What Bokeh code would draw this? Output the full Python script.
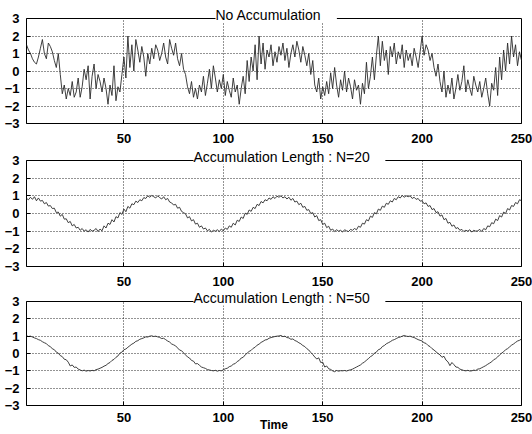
from bokeh.plotting import figure
from bokeh.layouts import column
from bokeh.models import Range1d, FixedTicker, Title, ColumnDataSource
from bokeh.embed import file_html
from bokeh.resources import INLINE

time = list(range(1, 251))

no_accum = [
    1.5, 1.2, 1.0, 0.7, 0.5, 0.4, 0.8, 1.3, 1.8, 1.0, 0.7, 1.6, 1.4, 1.1, 0.6, 0.2,
    1.0, -0.2, -1.3, -0.8, -1.6, -1.0, -1.4, -0.6, -1.5, -1.2, -0.4, -1.5, -0.9, 0.1, -0.5, 0.3,
    -1.6, -0.3, 0.4, -1.0, -0.2, -0.6, -1.2, -0.4, -1.0, -1.9, -0.8, -1.4, 0.3, -1.7, -0.9, -1.2,
    -0.2, 0.8, -0.4, 2.0, 0.2, 1.5, 0.0, 1.8, 1.2, 0.5, 1.4, 0.8, -0.3, 1.0, 0.4, 1.3,
    0.7, 1.5, 1.2, 0.6, 1.0, 1.6, 0.8, 0.4, 1.8, 1.3, 0.9, 1.6, 0.7, 0.3, 1.0, 0.1,
    -0.2, -0.9, -1.3, -0.6, -1.5, -1.0, -1.6, -0.8, -1.2, -0.3, -1.4, -0.7, 0.1, -1.0, 0.3, -0.4,
    -1.2, -0.5, -1.0, -0.2, -1.4, -0.6, -1.1, -1.5, -0.4, -1.2, -0.8, -1.9, -1.0, -0.3, -1.3, 0.6,
    -0.6, 0.8, 0.0, 1.5, -0.5, 2.0, 0.4, 1.6, 0.1, 1.2, 0.8, 1.5, 0.3, 1.1, 0.5, 1.4,
    0.9, 1.6, 0.6, 1.3, 0.2, 1.0, 1.5, 0.8, 1.7, 1.2, 0.5, 1.4, 0.9, 0.3, 1.0, -0.2,
    0.6, -0.8, -1.2, -0.4, -1.6, -0.9, -1.4, -0.6, -1.3, -0.1, -1.0, 0.2, -0.8, -1.5, -0.5, -1.1,
    0.0, -1.2, -0.4, -0.9, -1.6, -0.5, -1.1, -0.8, -1.9, -0.7, -1.3, 0.5, -1.0, -0.3, 0.8, -0.5,
    0.9, 2.0, 0.3, 1.7, 0.6, 1.2, -0.2, 1.4, 0.8, 1.6, 0.4, 1.1, 0.7, 1.5, 0.2, 1.2,
    0.6, 1.0, 0.3, 1.3, 0.8, 0.2, 1.1, 2.0, 0.9, 1.5, 1.2, 0.6, 1.0, 0.2, -0.3, 0.4,
    -0.6, -1.2, 0.0, -1.5, -0.8, -1.3, -0.4, -1.6, -1.0, -0.2, -1.1, -0.6, 0.3, -1.2, -0.5, -1.0,
    -1.4, -0.3, -0.8, -1.2, -0.6, -1.5, -1.0, -0.4, -1.3, -2.0, -0.7, -1.1, 0.2, -1.4, 0.8, -0.5,
    1.2, 0.0, 1.6, 0.4, 2.0, 0.8, 1.5, 0.3, 1.1, 0.6,
]

accum_20 = [
    0.85, 0.78, 0.92, 0.80, 0.95, 0.72, 0.88, 0.70, 0.74, 0.55, 0.62, 0.42, 0.45, 0.28, 0.30, 0.05,
    0.08, -0.15, -0.05, -0.32, -0.30, -0.52, -0.45, -0.70, -0.62, -0.82, -0.78, -0.95, -0.85, -1.00, -0.92, -1.05,
    -0.90, -1.00, -0.95, -0.85, -1.02, -0.88, -0.98, -0.70, -0.82, -0.55, -0.62, -0.35, -0.48, -0.18, -0.25, 0.05,
    -0.05, 0.25, 0.10, 0.40, 0.30, 0.55, 0.50, 0.70, 0.62, 0.78, 0.72, 0.90, 0.85, 1.00, 0.92, 1.02,
    0.95, 0.88, 1.00, 0.90, 0.82, 0.95, 0.78, 0.85, 0.65, 0.60, 0.48, 0.52, 0.30, 0.35, 0.12, 0.05,
    -0.02, -0.25, -0.18, -0.42, -0.35, -0.60, -0.55, -0.78, -0.70, -0.88, -0.82, -0.98, -0.90, -1.05, -0.95, -1.00,
    -0.92, -1.02, -0.88, -0.98, -0.82, -0.90, -0.70, -0.78, -0.55, -0.65, -0.38, -0.45, -0.20, -0.28, 0.02, -0.05,
    0.20, 0.12, 0.35, 0.28, 0.52, 0.45, 0.68, 0.60, 0.78, 0.72, 0.88, 0.80, 0.95, 0.85, 0.98, 0.92,
    1.00, 0.88, 0.95, 0.82, 0.92, 0.75, 0.85, 0.65, 0.70, 0.50, 0.58, 0.35, 0.40, 0.18, 0.22, 0.00,
    0.05, -0.20, -0.12, -0.40, -0.35, -0.62, -0.55, -0.80, -0.72, -0.95, -0.88, -1.02, -0.92, -1.00, -0.95, -1.05,
    -0.92, -0.98, -1.02, -0.90, -0.95, -0.85, -0.92, -0.72, -0.78, -0.55, -0.60, -0.35, -0.42, -0.15, -0.22, 0.05,
    -0.02, 0.25, 0.18, 0.42, 0.35, 0.58, 0.52, 0.72, 0.65, 0.85, 0.78, 0.95, 0.88, 1.02, 0.92, 1.00,
    0.95, 1.00, 0.85, 0.92, 0.80, 0.85, 0.70, 0.72, 0.55, 0.60, 0.40, 0.45, 0.22, 0.28, 0.05, 0.10,
    -0.15, -0.08, -0.35, -0.28, -0.55, -0.50, -0.72, -0.65, -0.85, -0.80, -0.95, -0.90, -1.02, -0.95, -1.00, -0.92,
    -1.05, -0.95, -1.00, -0.98, -0.90, -1.02, -0.85, -0.92, -0.70, -0.75, -0.52, -0.58, -0.32, -0.40, -0.12, -0.20,
    0.08, 0.00, 0.28, 0.20, 0.45, 0.40, 0.62, 0.55, 0.78, 0.72,
]

accum_50 = [
    1.02, 0.98, 1.00, 0.95, 0.90, 0.86, 0.80, 0.76, 0.68, 0.62, 0.57, 0.45, 0.40, 0.27, 0.22, 0.08,
    0.02, -0.12, -0.18, -0.33, -0.36, -0.50, -0.72, -0.66, -0.80, -0.78, -0.90, -0.95, -1.00, -0.96, -1.02, -0.98,
    -1.01, -0.97, -1.00, -0.93, -0.90, -0.85, -0.80, -0.73, -0.68, -0.58, -0.52, -0.40, -0.34, -0.22, -0.14, 0.02,
    0.08, 0.22, 0.26, 0.36, 0.45, 0.54, 0.60, 0.70, 0.74, 0.82, 0.86, 0.90, 0.96, 0.95, 1.00, 1.02,
    0.98, 1.00, 0.96, 0.93, 0.86, 0.88, 0.80, 0.72, 0.66, 0.55, 0.50, 0.44, 0.32, 0.20, 0.16, 0.04,
    -0.08, -0.20, -0.26, -0.40, -0.44, -0.60, -0.58, -0.68, -0.78, -0.82, -0.86, -0.93, -0.95, -0.98, -1.00, -0.97,
    -1.02, -0.98, -1.00, -0.94, -0.88, -0.85, -0.76, -0.72, -0.62, -0.58, -0.46, -0.40, -0.26, -0.22, -0.08, 0.02,
    0.12, 0.18, 0.30, 0.36, 0.48, 0.54, 0.64, 0.70, 0.78, 0.80, 0.88, 0.92, 0.95, 0.98, 1.00, 1.01,
    1.04, 0.97, 1.00, 0.92, 0.90, 0.82, 0.84, 0.75, 0.70, 0.62, 0.56, 0.46, 0.40, 0.28, 0.20, 0.06,
    -0.06, -0.20, -0.32, -0.25, -0.52, -0.50, -0.78, -0.72, -0.88, -0.92, -1.00, -1.05, -0.98, -1.02, -0.99, -1.00,
    -0.98, -1.01, -0.97, -0.94, -0.90, -0.84, -0.78, -0.72, -0.66, -0.56, -0.50, -0.38, -0.30, -0.18, -0.12, 0.02,
    0.08, 0.22, 0.26, 0.40, 0.46, 0.56, 0.62, 0.68, 0.76, 0.80, 0.86, 0.92, 0.95, 1.00, 1.04, 1.00,
    0.98, 1.00, 0.95, 0.92, 0.86, 0.80, 0.76, 0.72, 0.62, 0.58, 0.46, 0.40, 0.28, 0.20, 0.10, 0.00,
    -0.08, -0.22, -0.16, -0.38, -0.48, -0.70, -0.52, -0.64, -0.78, -0.80, -0.90, -0.94, -0.98, -1.00, -0.97, -1.01,
    -1.00, -0.96, -0.98, -0.90, -0.88, -0.82, -0.76, -0.70, -0.62, -0.55, -0.48, -0.36, -0.30, -0.20, -0.08, 0.02,
    0.10, 0.22, 0.28, 0.38, 0.48, 0.55, 0.64, 0.72, 0.76, 0.84,
]

titles = ["No Accumulation", "Accumulation Length : N=20", "Accumulation Length : N=50"]
title_offset = [189, 167, 167]
x_ticks = [50, 100, 150, 200, 250]
y_ticks = [-3, -2, -1, 0, 1, 2, 3]
series = [no_accum, accum_20, accum_50]

FONT = "Liberation Sans"


def make_panel(y, title, toff, height, top, bottom, xstand, xlabel=False):
    p = figure(width=532, height=height,
               x_range=Range1d(1, 250), y_range=Range1d(-3, 3),
               output_backend="svg", toolbar_location=None,
               min_border_left=26, min_border_right=11,
               min_border_top=top, min_border_bottom=bottom,
               background_fill_color="white", border_fill_color="white")
    p.outline_line_color = "black"
    p.outline_line_width = 1
    src = ColumnDataSource(dict(t=time, v=y))
    p.line("t", "v", source=src, line_color="#2a2a2a", line_width=0.9)

    for ax in (p.xaxis, p.yaxis):
        ax.axis_line_color = None
        ax.major_tick_in = 4
        ax.major_tick_out = 0
        ax.minor_tick_line_color = None
        ax.major_tick_line_color = "black"
        ax.major_label_text_font = FONT
        ax.major_label_text_font_size = "13px"
        ax.major_label_text_font_style = "bold"
        ax.major_label_text_color = "black"
    p.xaxis.ticker = FixedTicker(ticks=x_ticks)
    p.yaxis.ticker = FixedTicker(ticks=y_ticks)
    p.xaxis.major_label_standoff = xstand
    p.yaxis.major_label_standoff = 7

    for g in (p.xgrid, p.ygrid):
        g.grid_line_color = "black"
        g.grid_line_dash = "1 2"
        g.grid_line_alpha = 0.85
        g.grid_line_width = 1
    p.xgrid.ticker = FixedTicker(ticks=x_ticks)
    p.ygrid.ticker = FixedTicker(ticks=y_ticks)

    t = Title(text="  " + title + "  ", align="left", offset=toff,
              vertical_align="bottom", standoff=-8,
              text_font=FONT, text_font_size="14px", text_font_style="normal",
              text_color="black", background_fill_color="white")
    p.add_layout(t, "above")

    if xlabel:
        p.xaxis.axis_label = "Time"
        p.xaxis.axis_label_text_font = FONT
        p.xaxis.axis_label_text_font_size = "12px"
        p.xaxis.axis_label_text_font_style = "bold"
        p.xaxis.axis_label_text_color = "black"
        p.xaxis.axis_label_text_line_height = 0.9
        p.xaxis.axis_label_standoff = -7
    return p


p1 = make_panel(series[0], titles[0], title_offset[0], 148, 18, 25, 10)
p2 = make_panel(series[1], titles[1], title_offset[1], 143, 12, 25, 10)
p3 = make_panel(series[2], titles[2], title_offset[2], 143, 9, 26, 7, xlabel=True)

layout = column(p1, p2, p3, spacing=0)
open("out.html", "w").write(file_html(layout, INLINE))
